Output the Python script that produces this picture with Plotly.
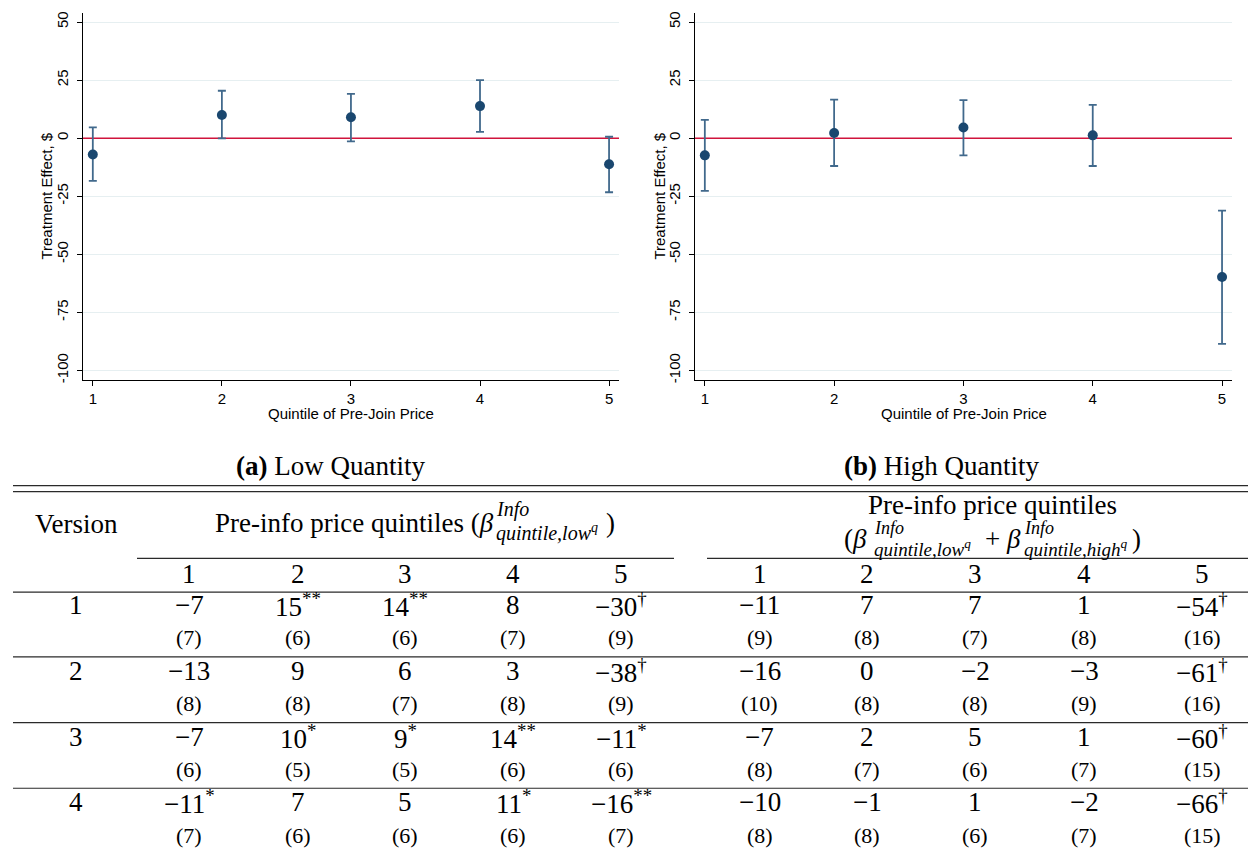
import plotly.graph_objects as go

W, H = 1248, 848

# ---- plotted estimates (version 3) with 95% confidence bounds ----
quintiles = [1, 2, 3, 4, 5]
low_est = [-7.0, 10.0, 9.0, 13.8, -11.2]
low_ci_lo = [-18.4, -0.1, -1.4, 2.7, -23.3]
low_ci_hi = [4.6, 20.4, 19.1, 25.0, 0.6]
high_est = [-7.4, 2.2, 4.6, 1.2, -59.8]
high_ci_lo = [-22.7, -12.0, -7.4, -12.0, -88.6]
high_ci_hi = [7.9, 16.6, 16.4, 14.3, -31.2]
y_ticks = [50, 25, 0, -25, -50, -75, -100]
y_tick_text = ["50", "25", "0", "-25", "-50", "-75", "-100"]
zero_line = 0

# ---- regression table ----
versions = ["1", "2", "3", "4"]
low_coef = [[-7, 15, 14, 8, -30], [-13, 9, 6, 3, -38], [-7, 10, 9, 14, -11], [-11, 7, 5, 11, -16]]
low_sig = [["", "**", "**", "", "†"], ["", "", "", "", "†"], ["", "*", "*", "**", "*"], ["*", "", "", "*", "**"]]
low_se = [[7, 6, 6, 7, 9], [8, 8, 7, 8, 9], [6, 5, 5, 6, 6], [7, 6, 6, 6, 7]]
high_coef = [[-11, 7, 7, 1, -54], [-16, 0, -2, -3, -61], [-7, 2, 5, 1, -60], [-10, -1, 1, -2, -66]]
high_sig = [["", "", "", "", "†"], ["", "", "", "", "†"], ["", "", "", "", "†"], ["", "", "", "", "†"]]
high_se = [[9, 8, 7, 8, 16], [10, 8, 8, 9, 16], [8, 7, 6, 7, 15], [8, 8, 6, 7, 15]]


def px(x):
    return x / W


def py(y):
    return 1 - y / H


SANS = "Liberation Sans"
SERIF = "Liberation Serif"
NAVY = "#1a476f"
BAR = "#41698c"
RED = "#d0143c"
X_RANGE = [0.924, 5.077]
Y_RANGE = [-104.2, 53.9]

fig = go.Figure()

panels = [
    ("x", "y", low_est, low_ci_lo, low_ci_hi),
    ("x2", "y2", high_est, high_ci_lo, high_ci_hi),
]
for xa, ya, est, lo, hi in panels:
    # horizontal reference line at zero, drawn under the estimates
    fig.add_trace(go.Scatter(
        x=X_RANGE, y=[zero_line, zero_line], mode="lines", xaxis=xa, yaxis=ya,
        line=dict(color=RED, width=1.5), showlegend=False, hoverinfo="skip",
    ))
    fig.add_trace(go.Scatter(
        x=quintiles, y=est, mode="markers", xaxis=xa, yaxis=ya,
        marker=dict(size=10, color=NAVY),
        error_y=dict(type="data", symmetric=False,
                     array=[h - e for h, e in zip(hi, est)],
                     arrayminus=[e - l for e, l in zip(est, lo)],
                     color=BAR, thickness=1.8, width=4),
        showlegend=False, hoverinfo="skip",
    ))

axis_common = dict(
    ticks="outside", ticklen=5, tickcolor="black", tickwidth=1,
    showline=True, linecolor="black", linewidth=1,
    zeroline=False, tickfont=dict(family=SANS, size=15, color="black"),
)
xdoms = [(83, 619), (695, 1232)]
for i, (a, b) in enumerate(xdoms):
    sfx = "" if i == 0 else "2"
    fig.layout["xaxis" + sfx] = dict(
        domain=[px(a), px(b)], range=X_RANGE, tickvals=quintiles,
        showgrid=False, anchor="y" + sfx, **axis_common)
    fig.layout["yaxis" + sfx] = dict(
        domain=[py(381), py(12)], range=Y_RANGE, tickvals=y_ticks,
        ticktext=y_tick_text, tickangle=-90, showgrid=True, ticklabelstandoff=3,
        gridcolor="#e6eff1", gridwidth=1, anchor="x" + sfx, **axis_common)

ann = []


def text(x, y, s, size, family=SERIF, xanchor="center", yanchor="middle", angle=0):
    ann.append(dict(x=px(x), y=py(y), xref="paper", yref="paper", text=s,
                    showarrow=False, xanchor=xanchor, yanchor=yanchor,
                    textangle=angle, font=dict(family=family, size=size, color="black")))


# axis titles
for ytitle_x, xtitle_x in [(47, 351), (660, 964)]:
    text(ytitle_x, 196.5, "Treatment Effect, $", 15, SANS, angle=-90)
    text(xtitle_x, 414, "Quintile of Pre-Join Price", 15, SANS)

# sub-figure captions
text(330, 467, "<b>(a)</b> Low Quantity", 27)
text(941, 467, "<b>(b)</b> High Quantity", 27)


def rule(y, x0=13, x1=1248, w=1.2):
    fig.add_shape(type="line", xref="paper", yref="paper", x0=px(x0), x1=px(x1),
                  y0=py(y), y1=py(y), line=dict(color="#2a2a2a", width=w))


rule(487, w=1.3)
rule(493, w=1.3)
rule(560, 137, 674)
rule(560, 707, 1248)
for yr in [594, 659, 725, 791]:
    rule(yr)

# header
text(76, 525, "Version", 27)
# left header with stacked script
text(213, 524, "Pre-info price quintiles (<i>β</i>", 27, xanchor="left")
text(494, 511, "<i>Info</i>", 20, xanchor="left")
text(494, 534, "<i>quintile,low<sup>q</sup></i>", 20, xanchor="left")
text(604, 524, ")", 27, xanchor="left")
# right header, two lines
text(993, 506, "Pre-info price quintiles", 27)
text(869, 541, "(<i>β</i>", 27, xanchor="right")
text(872, 529, "<i>Info</i>", 18, xanchor="left")
text(872, 550, "<i>quintile,low<sup>q</sup></i>", 19, xanchor="left")
text(983, 541, "+ <i>β</i>", 27, xanchor="left")
text(1022, 529, "<i>Info</i>", 18, xanchor="left")
text(1022, 550, "<i>quintile,high<sup>q</sup></i>", 19, xanchor="left")
text(1130, 541, ")", 27, xanchor="left")

low_cols_x = [189, 298, 405, 513, 621]
high_cols_x = [760, 867, 975, 1084, 1202]
for j in range(5):
    text(low_cols_x[j], 576, str(quintiles[j]), 27)
    text(high_cols_x[j], 576, str(quintiles[j]), 27)


def fmt(v, s):
    t = ("−" if v < 0 else "") + str(abs(v))
    if s:
        t += "<sup>" + s + "</sup>"
    return t


row_y = [607, 673, 739, 805]
for i, ver in enumerate(versions):
    yv = row_y[i]
    ys = yv + 33
    text(76, yv, ver, 27)
    for j in range(5):
        text(low_cols_x[j], yv, fmt(low_coef[i][j], low_sig[i][j]), 27)
        text(low_cols_x[j], ys, "(" + str(low_se[i][j]) + ")", 22)
        text(high_cols_x[j], yv, fmt(high_coef[i][j], high_sig[i][j]), 27)
        text(high_cols_x[j], ys, "(" + str(high_se[i][j]) + ")", 22)

fig.update_layout(
    width=W, height=H, margin=dict(l=0, r=0, t=0, b=0),
    paper_bgcolor="white", plot_bgcolor="white",
    annotations=ann, showlegend=False,
)
fig.write_html("out.html")
